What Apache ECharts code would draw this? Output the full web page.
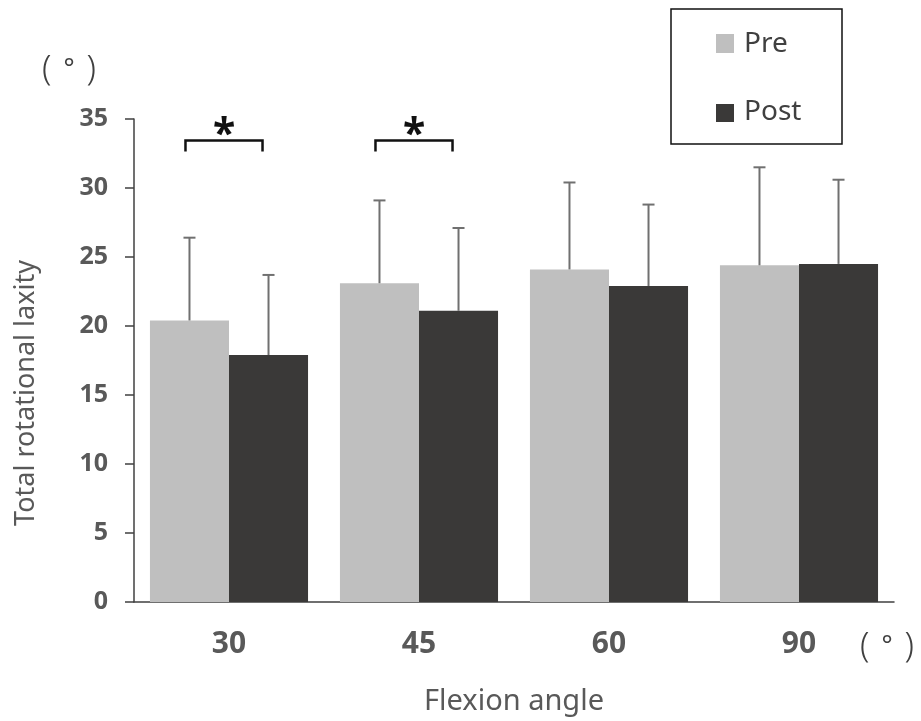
<!DOCTYPE html>
<html><head><meta charset="utf-8">
<script src="https://cdn.jsdelivr.net/npm/echarts@6/dist/echarts.min.js"></script>
<style>html,body{margin:0;padding:0;background:#fff}#c{width:921px;height:721px}</style>
</head><body><div id="c"></div>
<script>
const categories = ['30', '45', '60', '90'];
const preMean = [20.4, 23.1, 24.1, 24.4];
const postMean = [17.9, 21.1, 22.9, 24.5];
const preSD = [6.0, 6.0, 6.3, 7.1];
const postSD = [5.8, 6.0, 5.9, 6.1];
const sigCategoryIndex = [0, 1];
const sigLevel = [33.45, 33.45];
const yTicks = [0, 5, 10, 15, 20, 25, 30, 35];

const FONT = 'Noto Sans';
const GAP = 0.168;
const chart = echarts.init(document.getElementById('c'), null, {renderer: 'canvas'});

function errRender(means, sds, sign) {
  return function (params, api) {
    const i = api.value(0);
    const top = means[i] + sds[i];
    const band = api.size([1, 0])[0];
    const off = sign * band * (1 - GAP) / 4;
    const base = api.coord([i, means[i]]);
    const tp = api.coord([i, top]);
    const x = base[0] + off;
    const style = {stroke: '#707070', lineWidth: 2};
    return {type: 'group', children: [
      {type: 'line', shape: {x1: x, y1: base[1], x2: x, y2: tp[1]}, style},
      {type: 'line', shape: {x1: x - 6, y1: tp[1], x2: x + 6, y2: tp[1]}, style}
    ]};
  };
}

const unitRich = {
  p: {fontFamily: FONT, fontSize: 34, fontWeight: 300, fill: '#404040', color: '#404040'},
  d: {fontFamily: FONT, fontSize: 26, fill: '#404040', color: '#404040', padding: [0, 12, 0, 12]}
};

chart.setOption({
  animation: false,
  grid: {left: 134, right: 27, top: 119, bottom: 118, containLabel: false},
  xAxis: {
    type: 'category', data: categories,
    axisLine: {lineStyle: {color: '#404040', width: 1.5}},
    axisTick: {show: false},
    axisLabel: {color: '#595959', fontFamily: FONT, fontWeight: 'bold', fontSize: 30, margin: 27},
    name: 'Flexion angle', nameLocation: 'middle', nameGap: 85,
    nameTextStyle: {color: '#595959', fontFamily: FONT, fontSize: 29}
  },
  yAxis: {
    type: 'value', min: 0, max: 35, interval: 5,
    axisLine: {show: true, lineStyle: {color: '#404040', width: 1.5}},
    axisTick: {show: true, length: 9, lineStyle: {color: '#404040', width: 1.5}},
    splitLine: {show: false},
    axisLabel: {color: '#595959', fontFamily: FONT, fontWeight: 'bold', fontSize: 25, margin: 26,
      formatter: v => yTicks.includes(v) ? String(v) : ''}
  },
  series: [
    {name: 'Pre', type: 'bar', data: preMean, barGap: '0%', barCategoryGap: (GAP * 100) + '%',
      itemStyle: {color: '#bfbfbf'}},
    {name: 'Post', type: 'bar', data: postMean, barGap: '0%', barCategoryGap: (GAP * 100) + '%',
      itemStyle: {color: '#3a3938'}},
    {type: 'custom', data: categories.map((c, i) => [i]), renderItem: errRender(preMean, preSD, -1), z: 5},
    {type: 'custom', data: categories.map((c, i) => [i]), renderItem: errRender(postMean, postSD, 1), z: 5},
    {type: 'custom', data: sigCategoryIndex.map((c, k) => [c, sigLevel[k]]), z: 6,
      renderItem: function (params, api) {
        const i = api.value(0), lv = api.value(1);
        const band = api.size([1, 0])[0];
        const off = band * (1 - GAP) / 4;
        const p = api.coord([i, lv]);
        const x1 = p[0] - off - 4, x2 = p[0] + off - 6;
        const yb = p[1] + 11;
        const style = {stroke: '#111', lineWidth: 2.5, fill: null};
        return {type: 'group', children: [
          {type: 'polyline', shape: {points: [[x1, yb], [x1, p[1]], [x2, p[1]], [x2, yb]]}, style},
          {type: 'text', style: {text: '*', x: (x1 + x2) / 2, y: p[1] + 15, fill: '#111',
            font: 'bold 41px ' + FONT, textAlign: 'center', textVerticalAlign: 'bottom'}}
        ]};
      }}
  ],
  graphic: [
    {type: 'text', x: 42, y: 70, style: {text: '{p|(}{d|°}{p|)}', rich: unitRich, verticalAlign: 'middle'}},
    {type: 'text', x: 860, y: 647, style: {text: '{p|(}{d|°}{p|)}', rich: unitRich, verticalAlign: 'middle'}},
    {type: 'text', x: 26, y: 393, rotation: Math.PI / 2,
      style: {text: 'Total rotational laxity', font: '27px ' + FONT, fill: '#595959', align: 'center', verticalAlign: 'middle'}},
    {type: 'rect', shape: {x: 671, y: 9, width: 171, height: 135}, style: {fill: '#fff', stroke: '#111', lineWidth: 1.5}},
    {type: 'rect', shape: {x: 716, y: 34, width: 18, height: 19}, style: {fill: '#bfbfbf'}},
    {type: 'text', x: 744, y: 44, style: {text: 'Pre', font: '28px ' + FONT, fill: '#404040', verticalAlign: 'middle'}},
    {type: 'rect', shape: {x: 716, y: 104, width: 18, height: 18}, style: {fill: '#3a3938'}},
    {type: 'text', x: 744, y: 112, style: {text: 'Post', font: '28px ' + FONT, fill: '#404040', verticalAlign: 'middle'}}
  ]
});
</script></body></html>
